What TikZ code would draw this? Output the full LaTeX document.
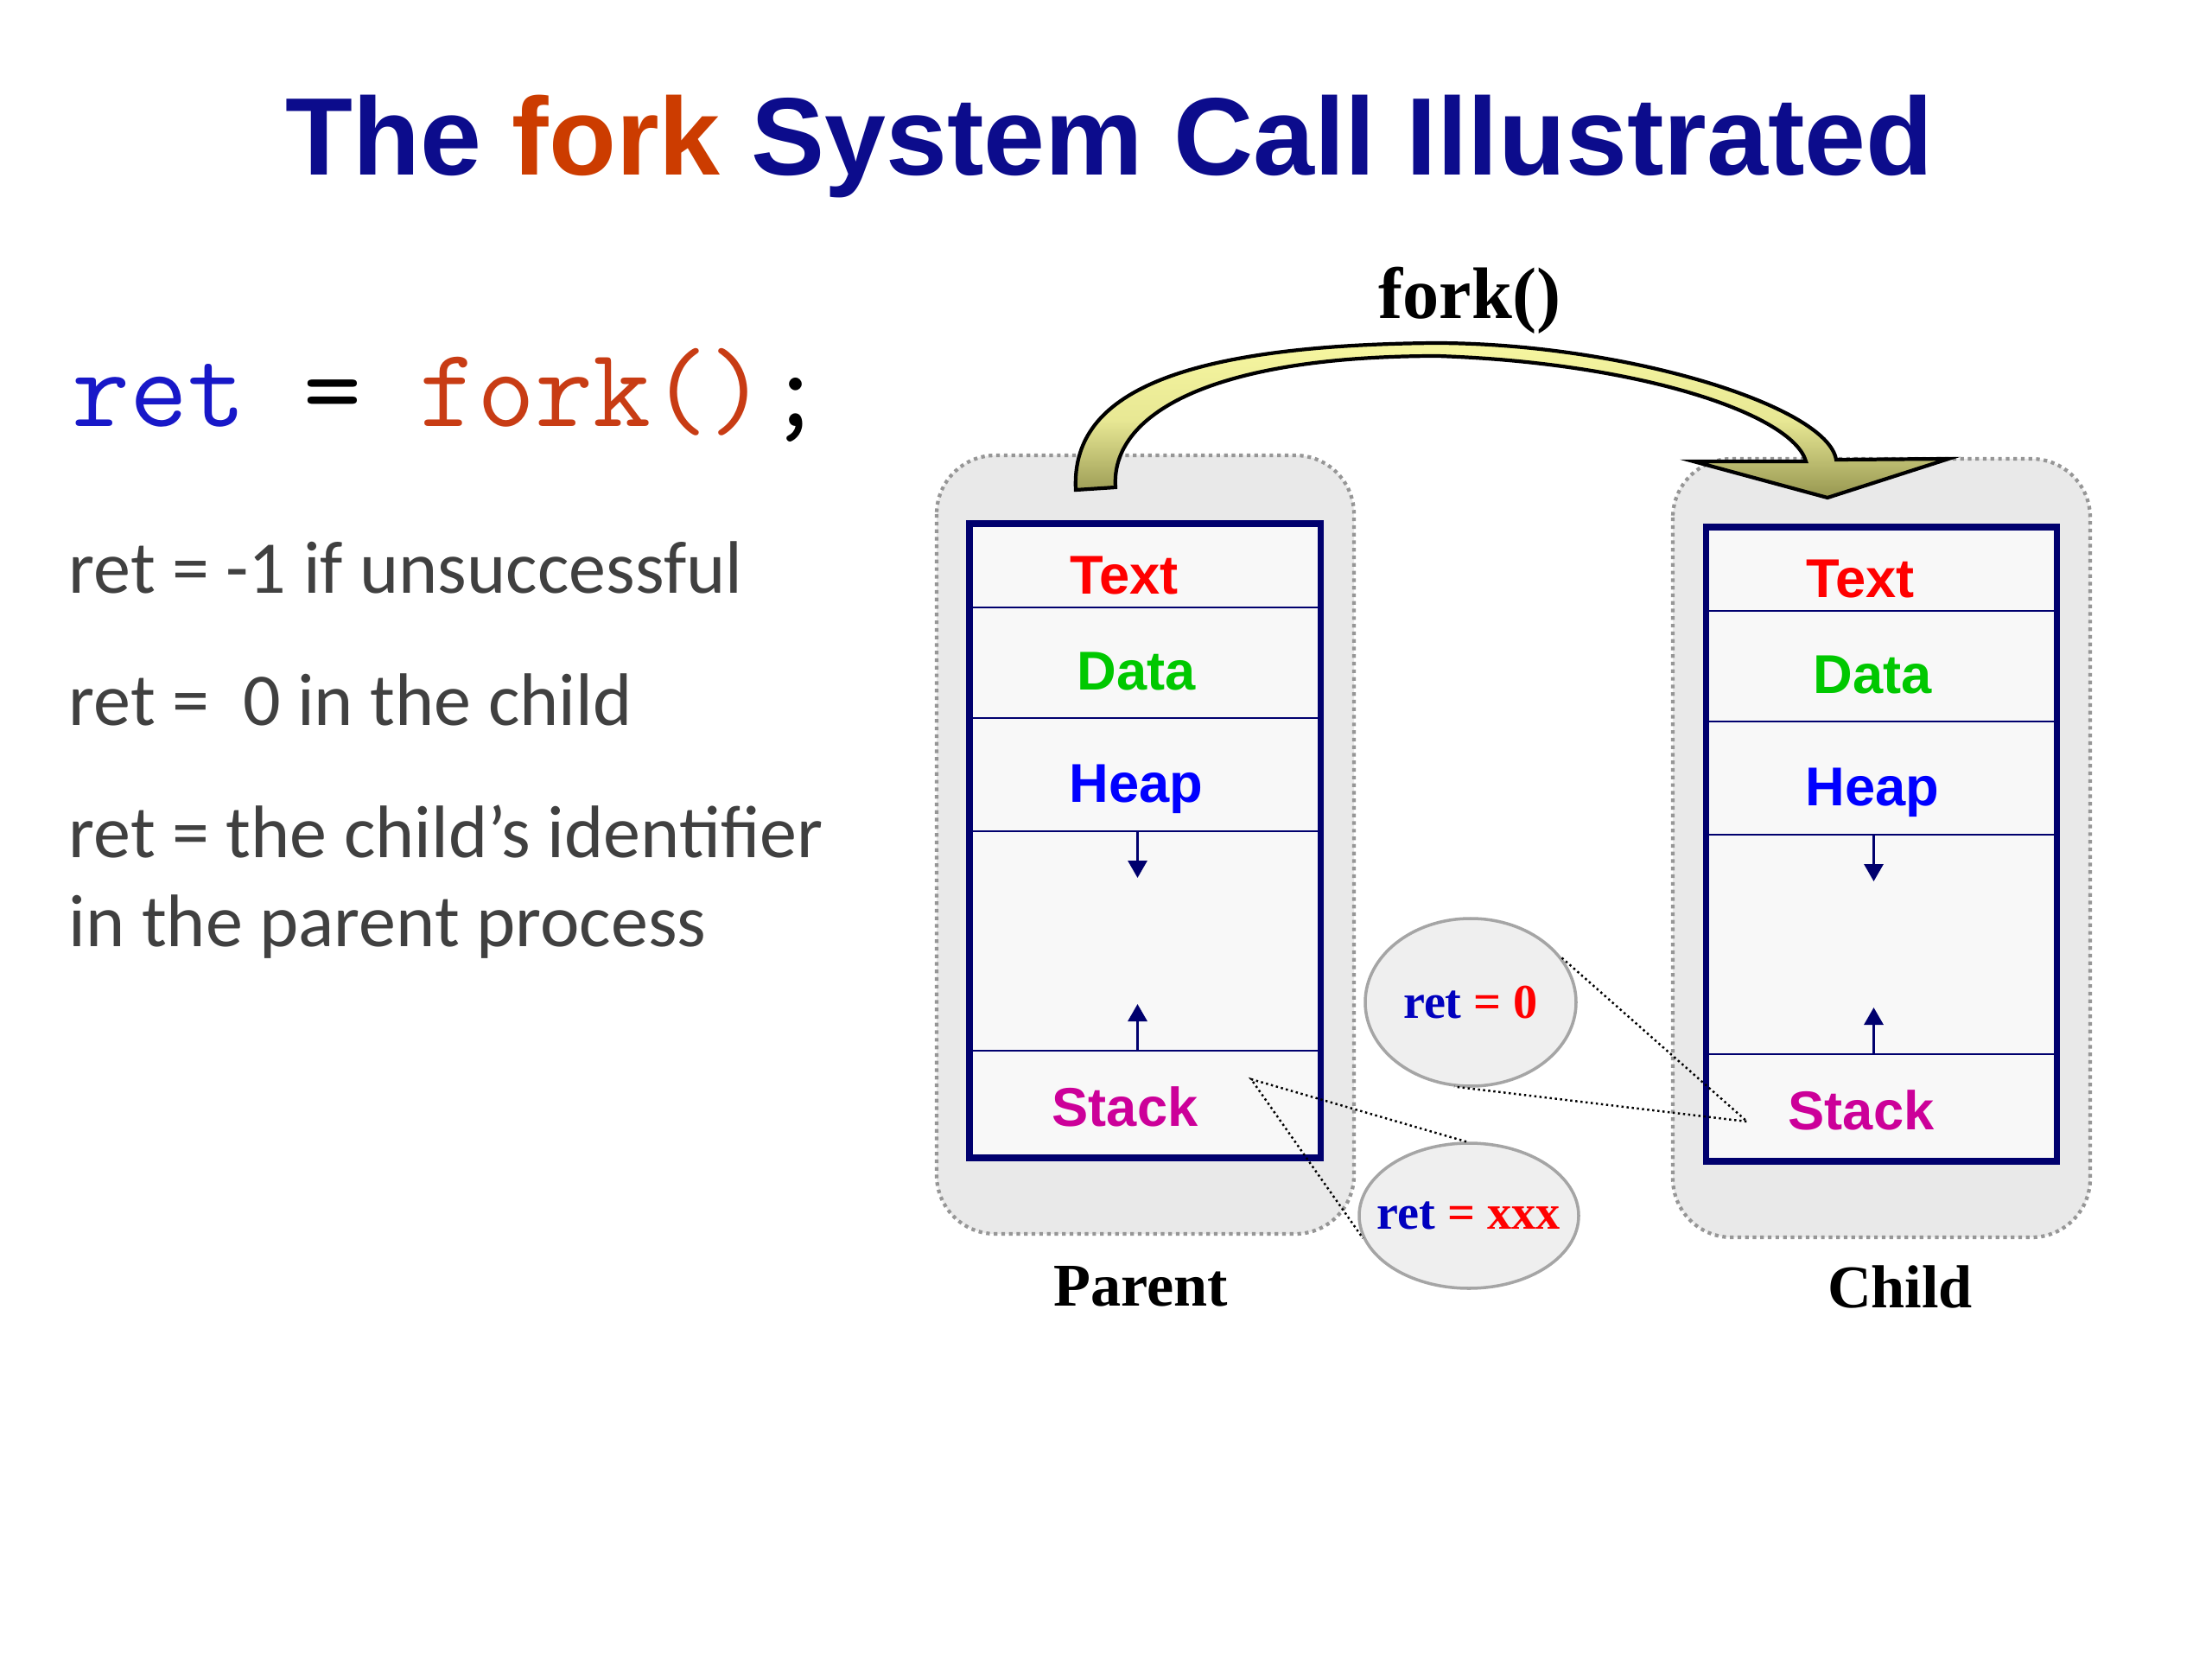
\documentclass[tikz,border=0pt]{standalone}
\usepackage{fontspec}
\setmainfont{Liberation Serif}
\newfontfamily\headsans{Liberation Sans}
\newfontfamily\bodysans{Carlito}
\usetikzlibrary{arrows.meta,positioning,shapes.geometric}
\definecolor{titlenavy}{RGB}{12,12,140}
\definecolor{forkorange}{RGB}{204,60,0}
\definecolor{codeblue}{RGB}{24,24,200}
\definecolor{codered}{RGB}{200,60,20}
\definecolor{bodygray}{RGB}{64,64,64}
\definecolor{memnavy}{RGB}{0,0,110}
\definecolor{segfill}{RGB}{248,248,248}
\definecolor{procgray}{RGB}{233,233,233}
\definecolor{dotgray}{RGB}{150,150,150}
\definecolor{bubfill}{RGB}{239,239,239}
\definecolor{bubedge}{RGB}{165,165,165}
\definecolor{forkyellow}{RGB}{246,246,160}
\definecolor{forkolive}{RGB}{150,150,80}
\definecolor{textred}{RGB}{255,0,0}
\definecolor{datagreen}{RGB}{0,200,0}
\definecolor{heapblue}{RGB}{0,0,255}
\definecolor{stackmag}{RGB}{204,0,153}
\definecolor{retblue}{RGB}{0,0,190}

\begin{document}
\begin{tikzpicture}[
  proc/.style={draw=dotgray,line width=1.2pt,dash pattern=on 1.2pt off 1.3pt,
    fill=procgray,rounded corners=6.8mm},
  seg/.style={draw=memnavy,line width=0.6pt,fill=segfill,minimum width=40.6mm,
    inner sep=0pt,outer sep=0pt},
  seglbl/.style={font=\headsans\fontsize{18}{18}\selectfont\bfseries,anchor=base,inner sep=0pt},
  growarr/.style={-{Triangle[length=2mm,width=2.2mm]},draw=memnavy,line width=0.9pt},
  bubble/.style={ellipse,draw=bubedge,line width=1pt,fill=bubfill,inner sep=0pt,
    font=\fontsize{16}{16}\selectfont\bfseries},
  callout/.style={line width=0.7pt,dash pattern=on 0.7pt off 1pt},
  caption/.style={font=\fontsize{20}{20}\selectfont\bfseries,anchor=base,inner sep=0pt},
  bodyline/.style={font=\bodysans\fontsize{24.5}{24.5}\selectfont,text=bodygray,
    anchor=base west,inner sep=0pt}
]
\path[use as bounding box,fill=white] (0,0) rectangle (25.6,-19.2);

% title and the left column
\node[font=\headsans\fontsize{36.3}{36.3}\selectfont\bfseries,text=titlenavy,anchor=base,inner sep=0pt]
  (title) at (12.84,-2.03) {The \textcolor{forkorange}{fork} System Call Illustrated};
\node[font=\ttfamily\fontsize{37}{37}\selectfont,anchor=base west,inner sep=0pt]
  (code) at (0.83,-4.94) {\textcolor{codeblue}{ret} = \textcolor{codered}{fork()};};
\node[bodyline] (fail) at (0.79,-6.86) {ret = -1 if unsuccessful};
\node[bodyline] (inchild) at (0.79,-8.39) {ret =\ \ 0 in the child};
\node[bodyline] (inparent) at (0.79,-9.92) {ret = the child’s identifier};
\node[bodyline] (inparent2) at (0.79,-10.95) {in the parent process};

% process boxes
\draw[proc] (10.84,-5.27) rectangle (15.67,-14.28);
\draw[proc] (19.36,-5.31) rectangle (24.19,-14.32);

% parent memory
\node[seg,minimum height=9.7mm,anchor=north] (ptext) at (13.25,-6.06) {};
\node[seg,minimum height=12.8mm,below=0pt of ptext] (pdata) {};
\node[seg,minimum height=13.1mm,below=0pt of pdata] (pheap) {};
\node[seg,minimum height=25.4mm,below=0pt of pheap] (pfree) {};
\node[seg,minimum height=12.4mm,below=0pt of pfree] (pstack) {};
\draw[memnavy,line width=2pt] (ptext.north west) rectangle (pstack.south east);
\node[seglbl,text=textred] (ptextlbl) at ([xshift=-2.4mm,yshift=-3.25mm]ptext.center) {Text};
\node[seglbl,text=datagreen] (pdatalbl) at ([xshift=-1mm,yshift=-3.1mm]pdata.center) {Data};
\node[seglbl,text=heapblue] (pheaplbl) at ([xshift=-1mm,yshift=-3.15mm]pheap.center) {Heap};
\node[seglbl,text=stackmag] (pstacklbl) at ([xshift=-2.3mm,yshift=-2.5mm]pstack.center) {Stack};
\draw[growarr] ([xshift=-0.85mm]pheap.south) -- ++(0,-5.4mm);
\draw[growarr] ([xshift=-0.85mm]pstack.north) -- ++(0,5.4mm);

% child memory
\node[seg,minimum height=9.7mm,anchor=north] (ctext) at (21.77,-6.10) {};
\node[seg,minimum height=12.8mm,below=0pt of ctext] (cdata) {};
\node[seg,minimum height=13.1mm,below=0pt of cdata] (cheap) {};
\node[seg,minimum height=25.4mm,below=0pt of cheap] (cfree) {};
\node[seg,minimum height=12.4mm,below=0pt of cfree] (cstack) {};
\draw[memnavy,line width=2pt] (ctext.north west) rectangle (cstack.south east);
\node[seglbl,text=textred] (ctextlbl) at ([xshift=-2.4mm,yshift=-3.25mm]ctext.center) {Text};
\node[seglbl,text=datagreen] (cdatalbl) at ([xshift=-1mm,yshift=-3.1mm]cdata.center) {Data};
\node[seglbl,text=heapblue] (cheaplbl) at ([xshift=-1mm,yshift=-3.15mm]cheap.center) {Heap};
\node[seglbl,text=stackmag] (cstacklbl) at ([xshift=-2.3mm,yshift=-2.5mm]cstack.center) {Stack};
\draw[growarr] ([xshift=-0.85mm]cheap.south) -- ++(0,-5.4mm);
\draw[growarr] ([xshift=-0.85mm]cstack.north) -- ++(0,5.4mm);

% the fork arrow
\draw[line width=1.2pt,line join=miter,top color=forkyellow,bottom color=forkolive,
  middle color=forkyellow!85!forkolive]
  (12.45,-5.67) .. controls (12.40,-4.70) and (13.30,-4.00) .. (16.60,-3.97)
  .. controls (18.80,-3.97) and (21.15,-4.70) .. (21.25,-5.32)
  -- (22.55,-5.31) -- (21.15,-5.76) -- (19.60,-5.34) -- (20.90,-5.34)
  .. controls (20.75,-4.80) and (19.00,-4.20) .. (16.64,-4.12)
  .. controls (14.00,-4.12) and (12.85,-4.80) .. (12.91,-5.64) -- cycle;
\node[font=\fontsize{24}{24}\selectfont\bfseries,anchor=base,inner sep=0pt]
  (forklbl) at (17.01,-3.69) {fork()};

% return values
\node[bubble,minimum width=24.4mm,minimum height=19.4mm] (retzero) at (17.02,-11.60)
  {\makebox[0pt]{\textcolor{retblue}{ret} \textcolor{textred}{= 0}}};
\node[bubble,minimum width=25.4mm,minimum height=16.8mm] (retxxx) at (17.00,-14.07)
  {\makebox[0pt]{\textcolor{retblue}{ret} \textcolor{textred}{= xxx}}};
\coordinate (ppoint) at ([shift={(-0.80,-0.33)}]pstack.north east);
\coordinate (cpoint) at ([shift={(-3.58,-0.78)}]cstack.north east);
\draw[callout] (retxxx.92) -- (ppoint) -- (retxxx.192);
\draw[callout] (retzero.26) -- (cpoint) -- (retzero.259);

\node[caption] (pcap) at (13.20,-15.11) {Parent};
\node[caption] (ccap) at (21.99,-15.13) {Child};
\end{tikzpicture}
\end{document}
